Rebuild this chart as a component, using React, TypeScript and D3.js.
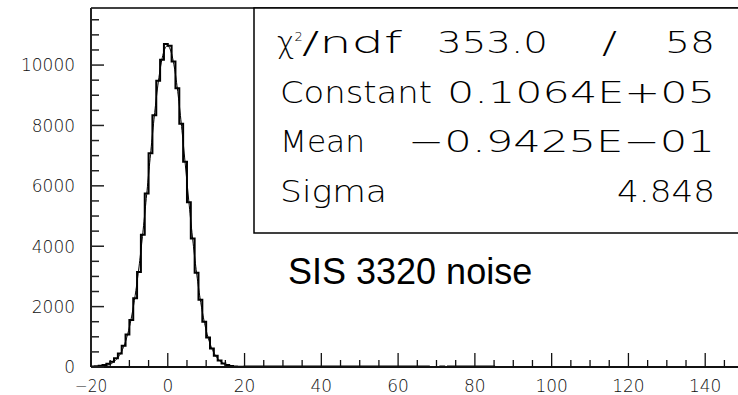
import React from "react";
import * as d3 from "d3";

// Histogram: 1-unit bins starting at -20
const binStart = -20;
const binWidth = 1;
const counts: number[] = [
  15, 25, 40, 65, 110, 170, 290, 450, 700, 1080,
  1560, 2280, 3150, 4380, 5750, 7080, 8340, 9480, 10180, 10700,
  10640, 10120, 9230, 8060, 6800, 5460, 4260, 3120, 2230, 1500,
  980, 610, 370, 215, 120, 65, 35, 20, 12, 8,
  20, 15, 20, 20, 15, 20, 20, 20, 15, 20,
  20, 20, 20, 15, 20, 20, 20, 20, 20, 15,
  20, 20, 20, 20, 15, 20, 20, 20, 20, 20,
  20, 20, 20, 20, 20, 20, 20, 20, 20, 20,
  20, 20, 20, 20, 20, 20, 20, 20, 0, 0,
  0, 20, 0, 20, 20, 20, 20, 20, 20, 20,
  20, 20, 20, 20, 20, 0, 0, 0, 0, 0,
  0, 0, 0, 0, 0, 0, 0, 0, 0, 0,
  0, 0, 0, 0, 0, 0, 0, 0, 0, 0,
  0, 0, 0, 0, 0, 0, 0, 0, 0, 0,
  0, 0, 0, 0, 0, 0, 0, 0, 0, 0,
  0, 0, 0, 0, 0, 0, 0, 0, 0, 0,
  0, 0, 0, 0, 0, 0, 0, 0, 0, 0,
];

// Fit parameters (as printed in the stats box)
const fitConstant = 10640;
const fitMean = -0.09425;
const fitSigma = 4.848;

const xDomain = [-20, 150];
const yDomain = [0, 11890];
const xMajorTicks = [-20, 0, 20, 40, 60, 80, 100, 120, 140];
const xTickLabels = ["\u221220", "0", "20", "40", "60", "80", "100", "120", "140"];
const yMajorTicks = [0, 2000, 4000, 6000, 8000, 10000];
const yTickLabels = ["0", "2000", "4000", "6000", "8000", "10000"];

const statLabels = ["Constant", "Mean", "Sigma"];
const statValues = ["0.1064E+05", "\u22120.9425E\u221201", "4.848"];
const chiValue = "353.0";
const ndfValue = "58";
const noteText = "SIS 3320 noise";

export default function App() {
  const x = d3.scaleLinear().domain(xDomain).range([91, 743.6]);
  const y = d3.scaleLinear().domain(yDomain).range([367, 8]);

  const xMinor = d3.range(-20, 150, 5).filter((v) => v % 20 !== 0);
  const yMinor = d3.range(0, 11890, 500).filter((v) => v % 2000 !== 0);

  const pts: [number, number][] = counts.map((c, i) => [binStart + i * binWidth, c]);
  pts.push([binStart + counts.length * binWidth, counts[counts.length - 1]]);
  const histPath = d3
    .line<[number, number]>()
    .x((d) => x(d[0]))
    .y((d) => y(d[1]))
    .curve(d3.curveStepAfter)(pts) as string;

  const fitXs = d3.range(-20, 20.01, 0.1);
  const fitPath = d3
    .line<number>()
    .x((v) => x(v))
    .y((v) => y(fitConstant * Math.exp(-((v - fitMean) ** 2) / (2 * fitSigma * fitSigma))))
    .curve(d3.curveLinear)(fitXs) as string;

  const boxFont = "DejaVu Sans, sans-serif";
  const rowY = [103, 152, 202];
  const labelLens = [152, 85, 107];
  const valueLens = [268, 307, 98];
  const digitW = 10.8;

  return (
    <svg
      width={738}
      height={395}
      style={{ position: "fixed", left: 0, top: 0, background: "#fff" }}
    >
      <rect x={0} y={0} width={738} height={395} fill="#fff" />
      {/* histogram */}
      <path d={histPath} fill="none" stroke="#000" strokeWidth={2} />
      <path d={fitPath} fill="none" stroke="#000" strokeWidth={1} />

      {/* frame */}
      <line x1={x(-20)} x2={740} y1={8} y2={8} stroke="#000" strokeWidth={1.5} />
      <line x1={x(-20)} x2={x(-20)} y1={8} y2={367} stroke="#222" strokeWidth={2} />
      <line x1={x(-20)} x2={740} y1={367} y2={367} stroke="#111" strokeWidth={2} />

      {/* y ticks */}
      {yMajorTicks.map((v) => (
        <line key={"ym" + v} x1={x(-20)} x2={x(-20) + 13} y1={y(v)} y2={y(v)} stroke="#222" strokeWidth={1.5} />
      ))}
      {yMinor.map((v) => (
        <line key={"yn" + v} x1={x(-20)} x2={x(-20) + 8} y1={y(v)} y2={y(v)} stroke="#222" strokeWidth={1.5} />
      ))}
      {yMajorTicks.map((v, i) => (
        <text
          key={"yl" + v}
          x={75 - yTickLabels[i].length * digitW}
          y={y(v)}
          dy="0.36em"
          fontFamily={boxFont}
          fontWeight={200}
          fontSize={17.5}
          fill="#111"
          textLength={yTickLabels[i].length * digitW}
          lengthAdjust="spacingAndGlyphs"
        >
          {yTickLabels[i]}
        </text>
      ))}

      {/* x ticks */}
      {xMajorTicks.map((v) => (
        <line key={"xm" + v} x1={x(v)} x2={x(v)} y1={367} y2={353} stroke="#111" strokeWidth={1.3} />
      ))}
      {xMinor.map((v) => (
        <line key={"xn" + v} x1={x(v)} x2={x(v)} y1={367} y2={360} stroke="#111" strokeWidth={1.3} />
      ))}
      {xMajorTicks.map((v, i) => {
        const w = xTickLabels[i].length * digitW;
        return (
          <text
            key={"xl" + v}
            x={x(v) - w / 2}
            y={392}
            fontFamily={boxFont}
            fontWeight={200}
            fontSize={17.5}
            fill="#111"
            textLength={w}
            lengthAdjust="spacingAndGlyphs"
          >
            {xTickLabels[i]}
          </text>
        );
      })}

      {/* stats box */}
      <rect x={254} y={8} width={500} height={225} fill="#fff" stroke="#000" strokeWidth={1.5} />
      <g fontFamily={boxFont} fontWeight={200} fontSize={29.5} fill="#000">
        <text x={277} y={53}>
          {"\u03c7"}
          <tspan dy={-12} fontSize={13}>2</tspan>
        </text>
        <text x={302} y={53} textLength={100} lengthAdjust="spacingAndGlyphs">/ndf</text>
        <text x={437} y={53} textLength={111} lengthAdjust="spacingAndGlyphs">{chiValue}</text>
        <text x={602} y={53} textLength={15} lengthAdjust="spacingAndGlyphs">/</text>
        <text x={665} y={53} textLength={50} lengthAdjust="spacingAndGlyphs">{ndfValue}</text>
        {statLabels.map((s, i) => (
          <text key={s} x={280} y={rowY[i]} textLength={labelLens[i]} lengthAdjust="spacingAndGlyphs">
            {s}
          </text>
        ))}
        {statValues.map((s, i) => (
          <text
            key={"v" + i}
            x={715 - valueLens[i]}
            y={rowY[i]}
            textLength={valueLens[i]}
            lengthAdjust="spacingAndGlyphs"
          >
            {s}
          </text>
        ))}
      </g>

      <text x={288} y={284} fontFamily="Liberation Sans, Arial, sans-serif" fontSize={36} fill="#000">
        {noteText}
      </text>
    </svg>
  );
}
